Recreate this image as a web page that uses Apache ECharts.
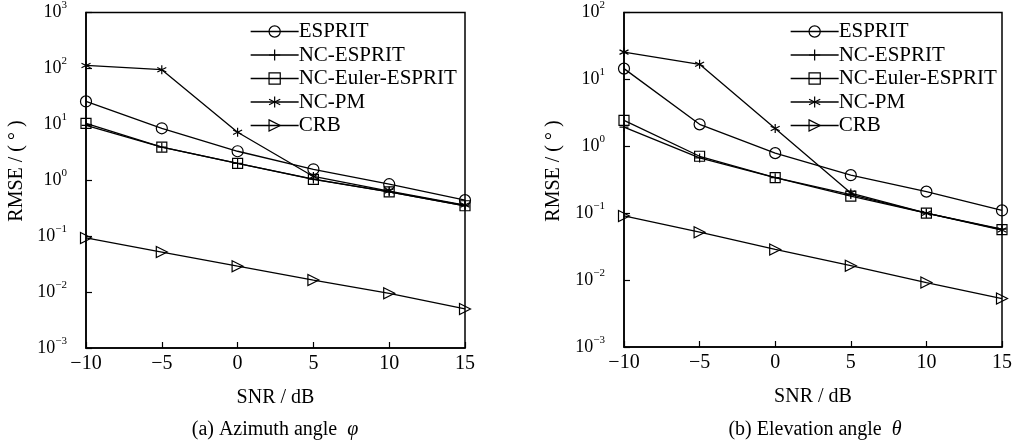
<!DOCTYPE html>
<html>
<head>
<meta charset="utf-8">
<script src="https://cdn.jsdelivr.net/npm/echarts@6/dist/echarts.min.js"></script>
<style>
	html, body { margin: 0; padding: 0; background: #fff; }
	#chart { width: 1020px; height: 446px; }
</style>
</head>
<body>
<div id="chart"></div>
<script>
// SNR values on the x axis
var snr = [-10, -5, 0, 5, 10, 15];
var names = ['ESPRIT', 'NC-ESPRIT', 'NC-Euler-ESPRIT', 'NC-PM', 'CRB'];

// (a) azimuth angle RMSE
var azEsprit = [25.7, 8.5, 3.3, 1.57, 0.85, 0.44];
var azNcEsprit = [9.6, 3.9, 2.0, 1.05, 0.62, 0.35];
var azNcEuler = [10.4, 3.9, 2.0, 1.04, 0.62, 0.35];
var azNcPm = [113, 95, 7.2, 1.17, 0.64, 0.36];
var azCrb = [0.093, 0.052, 0.029, 0.0164, 0.0095, 0.005];

// (b) elevation angle RMSE
var elEsprit = [14.5, 2.13, 0.79, 0.37, 0.21, 0.11];
var elNcEsprit = [1.94, 0.67, 0.34, 0.19, 0.10, 0.058];
var elNcEuler = [2.44, 0.71, 0.34, 0.18, 0.10, 0.057];
var elNcPm = [25.6, 16.8, 1.84, 0.2, 0.10, 0.056];
var elCrb = [0.091, 0.052, 0.0287, 0.0164, 0.0092, 0.0053];

var font = 'Liberation Serif';
var symbols = [
	'circle',
	'path://M0,5L10,5M5,0L5,10',
	'rect',
	'path://M5,0L5,10M0.67,2.5L9.33,7.5M0.67,7.5L9.33,2.5',
	'path://M0,0L10,5L0,10Z'
];
var symbolSizes = [11, 9, 10, 9, 11];

function pairs(vals) {
	return snr.map(function(x, i) { return [x, vals[i]]; });
}

function makeSeries(idx, list) {
	return list.map(function(vals, k) {
		return {
			name: names[k],
			type: 'line',
			xAxisIndex: idx,
			yAxisIndex: idx,
			data: pairs(vals),
			symbol: symbols[k],
			symbolSize: symbolSizes[k],
			showAllSymbol: true,
			clip: false,
			lineStyle: { color: '#000', width: 1.3 },
			itemStyle: { color: 'rgba(255,255,255,0)', borderColor: '#000', borderWidth: 1.2 },
			emphasis: { disabled: true },
			animation: false
		};
	});
}

function xAxis(idx) {
	return {
		gridIndex: idx,
		type: 'value',
		min: -10,
		max: 15,
		interval: 5,
		name: 'SNR / dB',
		nameLocation: 'middle',
		nameGap: 40,
		nameTextStyle: { fontFamily: font, fontSize: 20, color: '#000' },
		axisLine: { onZero: false, lineStyle: { color: '#000', width: 1.5 } },
		axisTick: { inside: true, length: 6, lineStyle: { color: '#000', width: 1.2 } },
		axisLabel: {
			margin: 6, fontFamily: font, fontSize: 20, color: '#000',
			formatter: function(v) { return String(v).replace('-', '\u2212'); }
		},
		splitLine: { show: false }
	};
}

function yAxis(idx, min, max) {
	return {
		gridIndex: idx,
		type: 'log',
		logBase: 10,
		min: min,
		max: max,
		axisLine: { onZero: false, lineStyle: { color: '#000', width: 1.5 } },
		axisTick: { inside: true, length: 6, lineStyle: { color: '#000', width: 1.2 } },
		minorTick: { show: false },
		axisLabel: {
			margin: 19,
			color: '#000',
			fontFamily: font,
			fontSize: 18,
			formatter: function(v) {
				var e = Math.round(Math.log(v) / Math.LN10);
				return '{b|10}{s|' + String(e).replace('-', '\u2212') + '}';
			},
			rich: {
				b: { fontFamily: font, fontSize: 18, color: '#000' },
				s: { fontFamily: font, fontSize: 11, lineHeight: 11, color: '#000', padding: [0, 0, 14, 0], verticalAlign: 'middle' }
			}
		},
		splitLine: { show: false }
	};
}

function legend(left) {
	return {
		data: names,
		orient: 'vertical',
		left: left,
		top: 16,
		itemWidth: 48,
		itemHeight: 14,
		itemGap: 2.5,
		itemStyle: { color: 'rgba(255,255,255,0)', borderColor: '#000', borderWidth: 1.2 },
		lineStyle: { color: '#000', width: 1.3 },
		textStyle: { fontFamily: font, fontSize: 21, color: '#000', lineHeight: 20, padding: [0, 0, 0, -5] },
		selectedMode: false
	};
}

function label(x, y, text, rot) {
	return {
		type: 'text',
		x: x,
		y: y,
		rotation: rot || 0,
		style: { text: text, fontFamily: font, fontSize: 20, fill: '#000', align: 'center', verticalAlign: 'middle' }
	};
}

var myChart = echarts.init(document.getElementById('chart'));
myChart.setOption({
	backgroundColor: '#fff',
	animation: false,
	grid: [
		{ left: 86, top: 12, width: 379, height: 336, show: true, borderColor: '#000', borderWidth: 1.5, backgroundColor: 'transparent' },
		{ left: 624, top: 12, width: 378, height: 335, show: true, borderColor: '#000', borderWidth: 1.5, backgroundColor: 'transparent' }
	],
	xAxis: [xAxis(0), xAxis(1)],
	yAxis: [yAxis(0, 0.001, 1000), yAxis(1, 0.001, 100)],
	legend: [legend(245), legend(785)],
	graphic: [
		label(17, 171, 'RMSE / ( \u00b0 )', Math.PI / 2),
		label(554, 171, 'RMSE / ( \u00b0 )', Math.PI / 2),
		{
			type: 'text', x: 275, y: 430,
			style: {
				text: '{n|(a) Azimuth angle  }{i|\u03c6}', align: 'center', verticalAlign: 'middle',
				rich: {
					n: { fontFamily: font, fontSize: 20, fill: '#000' },
					i: { fontFamily: font, fontSize: 20, fontStyle: 'italic', fill: '#000' }
				}
			}
		},
		{
			type: 'text', x: 815, y: 430,
			style: {
				text: '{n|(b) Elevation angle  }{i|\u03b8}', align: 'center', verticalAlign: 'middle',
				rich: {
					n: { fontFamily: font, fontSize: 20, fill: '#000' },
					i: { fontFamily: font, fontSize: 20, fontStyle: 'italic', fill: '#000' }
				}
			}
		}
	],
	series: makeSeries(0, [azEsprit, azNcEsprit, azNcEuler, azNcPm, azCrb])
		.concat(makeSeries(1, [elEsprit, elNcEsprit, elNcEuler, elNcPm, elCrb]))
});
</script>
</body>
</html>
